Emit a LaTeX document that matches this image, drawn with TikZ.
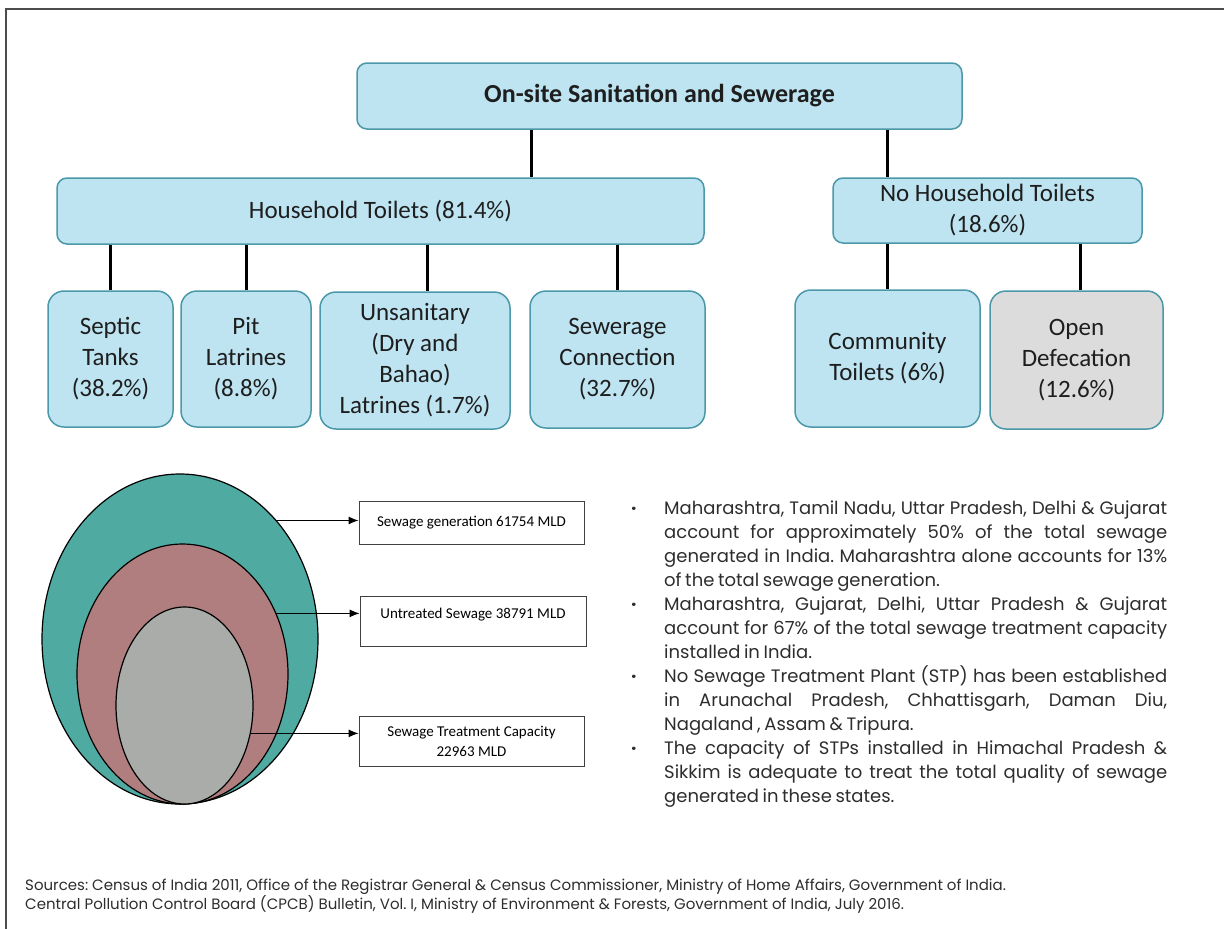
\documentclass[tikz,border=0pt]{standalone}
\usepackage{fontspec}
\setmainfont{Carlito}
\newfontfamily\notefont{Poppins}
\usetikzlibrary{shapes.geometric,arrows.meta}

\definecolor{boxfill}{RGB}{190,228,242}
\definecolor{boxline}{RGB}{74,152,168}
\definecolor{openfill}{RGB}{220,220,220}
\definecolor{outerfill}{RGB}{79,170,162}
\definecolor{midfill}{RGB}{176,126,126}
\definecolor{innerfill}{RGB}{170,172,169}
\definecolor{inktext}{RGB}{30,30,30}
\definecolor{notetext}{RGB}{45,45,45}

\newcommand{\notedot}{\leavevmode\llap{\makebox[33pt][l]{\textbf{·}}}}
\newcommand{\notesetup}{\frenchspacing\spaceskip=0.2em plus 1em minus 0.05em\relax
  \tolerance=10000\relax\hyphenpenalty=10000\relax}

\tikzset{
  head/.style={draw=boxline,line width=1.5pt,fill=boxfill,rounded corners=10pt,
    inner sep=0pt,align=center,text=inktext,font=\fontsize{25}{31}\selectfont},
  leaf/.style={head,rounded corners=16pt},
  link/.style={line width=3pt,black},
  ring/.style={ellipse,draw=black,line width=1.2pt,inner sep=0pt,outer sep=0pt},
  tag/.style={draw=black!75,line width=1pt,fill=white,inner sep=0pt,align=center,
    font=\fontsize{15}{20}\selectfont,minimum width=225pt},
  pointer/.style={line width=1pt,-{Latex[length=10pt,width=8pt]}}
}

\begin{document}
\begin{tikzpicture}[x=1pt,y=-1pt]
        \useasboundingbox (0,0) rectangle (1224,929);
        \draw[black!70,line width=1.2pt] (6,929) -- (6,9) -- (1224,9);

        % sanitation tree
        \node [head,minimum width=605pt,minimum height=66pt,font=\fontsize{26}{31}\selectfont\bfseries] (top) at (659.5,96) {On-site Sanitation and Sewerage};
        \node [head,minimum width=647pt,minimum height=66pt] (hh) at (380.5,211) {Household Toilets (81.4\%)};
        \node [head,minimum width=309pt,minimum height=65pt] (nohh) at (987.5,210.5) {No Household Toilets\\(18.6\%)};

        \node [leaf,minimum width=125pt,minimum height=136pt] (septic) at (110.5,359) {Septic\\Tanks\\(38.2\%)};
        \node [leaf,minimum width=130pt,minimum height=136pt] (pit) at (246,359) {Pit\\Latrines\\(8.8\%)};
        \node [leaf,minimum width=190pt,minimum height=137pt] (unsan) at (415,360.5) {Unsanitary\\(Dry and\\Bahao)\\Latrines (1.7\%)};
        \node [leaf,minimum width=175pt,minimum height=137pt] (sewer) at (617.5,359.5) {Sewerage\\Connection\\(32.7\%)};
        \node [leaf,minimum width=185pt,minimum height=137pt] (comm) at (887.5,358.5) {Community\\Toilets (6\%)};
        \node [leaf,fill=openfill,minimum width=173pt,minimum height=138pt] (open) at (1076.5,360) {Open\\Defecation\\(12.6\%)};

        \coordinate (hhjoin) at (531,0);
        \draw[link] (top.south -| hhjoin) -- (hh.north -| hhjoin);
        \draw[link] (top.south -| comm.north) -- (nohh.north -| comm.north);
        \draw[link] (hh.south -| septic.north) -- (septic.north);
        \draw[link] (hh.south -| pit.north) -- (pit.north);
        \draw[link] (hh.south -| unsan.north) ++(12,0) -- ([xshift=12pt]unsan.north);
        \draw[link] (hh.south -| sewer.north) -- (sewer.north);
        \draw[link] (nohh.south -| comm.north) -- (comm.north);
        \draw[link] (nohh.south -| open.north) ++(4,0) -- ([xshift=4pt]open.north);

        % sewage ellipses
        \node [ring,fill=outerfill,minimum width=276pt,minimum height=330pt] (outer) at (180,639) {};
        \node [ring,fill=midfill,minimum width=211pt,minimum height=260pt] (middle) at (182.5,674) {};
        \node [ring,fill=innerfill,minimum width=137pt,minimum height=197pt] (inner) at (184.5,705.5) {};

        \node [tag,minimum height=43pt] (gen) at (471.5,522.5) {Sewage generation 61754 MLD};
        \node [tag,minimum height=50pt,minimum width=226pt,text height=11pt,text depth=17pt] (untreated) at (473,621) {Untreated Sewage 38791 MLD};
        \node [tag,minimum height=50pt] (capacity) at (471.5,741) {Sewage Treatment Capacity\\22963 MLD};

        \draw[pointer] (outer.51) -- (outer.51 -| gen.west);
        \draw[pointer] (middle.33) -- (middle.33 -| untreated.west);
        \draw[pointer] (inner.-23) -- (inner.-23 -| capacity.west);

        % notes
        \node [anchor=north west,text width=503pt,align=justify,inner sep=0pt,text=notetext,
          font=\notefont\fontsize{18}{24}\selectfont] (notes) at (664,501) {\notesetup
          \notedot Maharashtra, Tamil Nadu, Uttar Pradesh, Delhi \& Gujarat\linebreak
          account for approximately 50\% of the total sewage\linebreak
          generated in India. Maharashtra alone accounts for 13\%\linebreak
          of the total sewage generation.\par
          \notedot Maharashtra, Gujarat, Delhi, Uttar Pradesh \& Gujarat\linebreak
          account for 67\% of the total sewage treatment capacity\linebreak
          installed in India.\par
          \notedot No Sewage Treatment Plant (STP) has been established\linebreak
          in Arunachal Pradesh, Chhattisgarh, Daman Diu,\linebreak
          Nagaland , Assam \& Tripura.\par
          \notedot The capacity of STPs installed in Himachal Pradesh \&\linebreak
          Sikkim is adequate to treat the total quality of sewage\linebreak
          generated in these states.};

        \node [anchor=north west,align=left,inner sep=0pt,text=notetext,
          font=\notefont\fontsize{15}{17}\selectfont\frenchspacing] (sources) at (25,879) {Sources: Census of India 2011, Office of the Registrar General \& Census Commissioner, Ministry of Home Affairs, Government of India.\\
          Central Pollution Control Board (CPCB) Bulletin, Vol. I, Ministry of Environment \& Forests, Government of India, July 2016.};
      \end{tikzpicture}
\end{document}
